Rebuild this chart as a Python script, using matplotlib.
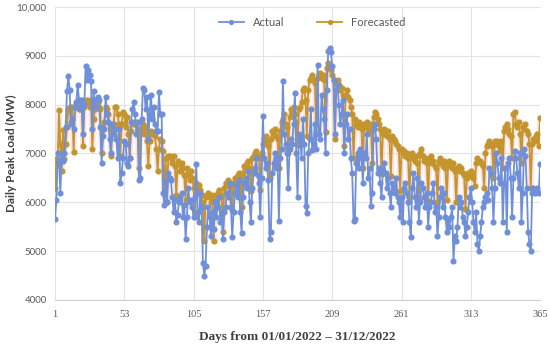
import numpy as np
import matplotlib
matplotlib.use("Agg")
import matplotlib.pyplot as plt

# Daily values, one row per week (days 7k+1 .. 7k+7)
forecast_weeks = [
    [6300, 6880, 6780, 7880, 7200, 6650, 7480],
    [6880, 7200, 7550, 7900, 7950, 7650, 7950],
    [7020, 7950, 8000, 8050, 7900, 8100, 8050],
    [7150, 7950, 8050, 8100, 8050, 7950, 8100],
    [7100, 7700, 7900, 8000, 8050, 7950, 7900],
    [7000, 7550, 7650, 7950, 7900, 7800, 7600],
    [6950, 7500, 7600, 7950, 7950, 7800, 7600],
    [6950, 7600, 7850, 7800, 7550, 7750, 7400],
    [6900, 7450, 7650, 7600, 7600, 7650, 7500],
    [6700, 7500, 7550, 7600, 7400, 7550, 7250],
    [6750, 7250, 7450, 7400, 7400, 7350, 7100],
    [6650, 7100, 7300, 7250, 7050, 6200, 6900],
    [6000, 6950, 6950, 6900, 6800, 6950, 6750],
    [6150, 6850, 6800, 6650, 6800, 6700, 6550],
    [6050, 6700, 6550, 6450, 6650, 6500, 6300],
    [5700, 6400, 6200, 6350, 6250, 6150, 6000],
    [5200, 6100, 6150, 6200, 6100, 6000, 6150],
    [5200, 6050, 6150, 6200, 6250, 6100, 6150],
    [5400, 6300, 6400, 6350, 6450, 6400, 6300],
    [5850, 6400, 6500, 6450, 6550, 6600, 6500],
    [5900, 6600, 6750, 6700, 6800, 6850, 6700],
    [6230, 6900, 6950, 7000, 7050, 6950, 6900],
    [6250, 7000, 7200, 7300, 7350, 7250, 7150],
    [6500, 7300, 7450, 7400, 7500, 7350, 7300],
    [6700, 7450, 7650, 7700, 7800, 7600, 7550],
    [7000, 7750, 7900, 7850, 7950, 7800, 7650],
    [7180, 7900, 7950, 8050, 8300, 8350, 8100],
    [7350, 8300, 8500, 8550, 8600, 8500, 8450],
    [7400, 8550, 8600, 8650, 8550, 8600, 8500],
    [7430, 8750, 8850, 8800, 8700, 8600, 8500],
    [7300, 8450, 8500, 8400, 8300, 8350, 8200],
    [7150, 8200, 8300, 8150, 8100, 7950, 7800],
    [6900, 7700, 7600, 7550, 7650, 7550, 7500],
    [6710, 7600, 7550, 7650, 7500, 7450, 7600],
    [6800, 7750, 7850, 7800, 7700, 7600, 7500],
    [6570, 7400, 7500, 7450, 7350, 7450, 7300],
    [6530, 7350, 7300, 7250, 7200, 7150, 7100],
    [6230, 7100, 7000, 7050, 6950, 7000, 6900],
    [6100, 6950, 7000, 6900, 6850, 6950, 6800],
    [6050, 7000, 7100, 6950, 6850, 6900, 6800],
    [6020, 6900, 6950, 6800, 6850, 6750, 6700],
    [6000, 6850, 6900, 6800, 6750, 6850, 6700],
    [6050, 6800, 6850, 6750, 6700, 6800, 6650],
    [6000, 6700, 6750, 6650, 6700, 6600, 6550],
    [5860, 6500, 6600, 6550, 6650, 6600, 6500],
    [6330, 6800, 6900, 6850, 6850, 6800, 6750],
    [6300, 7000, 7150, 7200, 7250, 7200, 7150],
    [6500, 7250, 7200, 7250, 7150, 7050, 7250],
    [6700, 7450, 7550, 7600, 7500, 7400, 7350],
    [6900, 7800, 7850, 7600, 7550, 7650, 7400],
    [6800, 7550, 7500, 7600, 7450, 7400, 7200],
    [6300, 7200, 7300, 7250, 7350, 7400, 7150],
    [7730],
]

actual_weeks = [
    [5650, 6050, 7000, 6850, 6200, 6900, 6850],
    [7000, 7550, 8280, 8580, 8300, 7600, 7700],
    [7500, 7950, 8050, 8400, 8100, 7900, 8100],
    [7400, 8000, 8800, 8500, 8700, 8600, 8480],
    [7500, 8280, 7950, 8100, 8150, 8100, 7550],
    [6800, 7350, 7500, 8150, 7800, 7650, 7300],
    [7000, 7600, 7400, 7500, 7300, 6900, 7500],
    [6400, 6600, 6900, 7250, 7200, 6800, 6750],
    [6900, 7650, 7900, 8050, 7800, 7400, 7650],
    [6450, 6500, 7700, 8350, 8300, 7900, 8150],
    [7300, 7800, 8200, 7700, 7950, 7600, 7450],
    [7450, 8250, 7800, 7800, 6200, 5950, 6450],
    [6000, 6600, 6500, 6450, 6100, 5800, 6050],
    [5600, 5750, 6000, 6100, 6200, 5700, 5950],
    [5250, 5700, 6300, 6000, 6050, 5900, 5700],
    [6100, 6775, 5800, 5600, 6200, 5900, 4750],
    [4500, 4700, 5500, 5900, 5700, 5300, 5800],
    [5450, 6000, 5700, 5900, 6100, 5600, 5800],
    [5250, 5800, 5900, 6200, 6100, 6400, 5900],
    [5285, 5800, 6200, 6350, 6100, 6450, 5800],
    [5380, 6100, 6400, 6500, 6300, 6650, 6000],
    [5600, 6300, 6600, 6700, 6900, 6550, 6400],
    [5700, 6500, 7775, 6900, 6700, 6800, 6450],
    [5245, 5400, 6600, 6800, 7000, 6700, 6900],
    [5620, 6900, 7100, 8476, 7400, 7200, 7000],
    [6300, 7100, 7300, 7200, 7600, 8240, 7000],
    [6100, 7400, 7300, 6900, 7700, 7200, 5925],
    [5790, 7000, 7300, 7900, 7080, 7200, 7600],
    [7100, 8816, 7400, 7300, 8200, 7900, 7700],
    [7000, 8300, 9100, 9160, 9080, 8800, 8500],
    [7400, 8300, 8400, 8000, 7600, 7800, 8100],
    [7000, 7600, 7800, 7300, 7500, 6900, 6600],
    [5620, 5650, 6800, 7000, 6700, 7100, 6900],
    [6400, 7000, 6900, 7400, 6500, 6700, 5925],
    [6200, 7500, 7600, 7300, 6600, 6700, 6400],
    [6100, 6650, 6800, 6600, 6300, 6500, 6200],
    [5900, 6400, 6300, 6200, 6500, 6100, 6000],
    [5700, 6100, 5590, 6300, 6400, 6200, 6000],
    [5600, 5285, 6300, 6600, 6100, 5900, 6500],
    [5600, 6000, 6400, 6300, 6100, 5900, 6200],
    [5500, 5900, 6000, 6200, 6400, 5800, 5900],
    [5300, 5700, 6100, 6300, 5900, 6200, 5700],
    [5400, 5650, 5500, 5700, 5900, 4800, 5300],
    [5200, 5500, 6100, 5900, 6000, 5700, 5600],
    [5300, 5500, 5800, 6100, 6300, 6000, 5600],
    [5400, 5800, 5150, 5000, 5300, 5600, 5900],
    [6000, 6100, 6200, 6050, 6700, 6600, 6300],
    [5600, 6300, 7000, 6800, 6500, 6400, 6900],
    [5600, 6400, 6700, 5400, 6800, 6900, 6500],
    [5700, 6500, 7050, 6900, 6600, 6300, 7000],
    [5600, 6200, 7100, 6950, 6300, 5400, 5140],
    [5000, 6200, 6300, 6200, 6250, 6300, 6200],
    [6775],
]

forecast = [v for week in forecast_weeks for v in week]
actual = [v for week in actual_weeks for v in week]
days = np.arange(1, len(actual) + 1)

x_ticks = [1, 53, 105, 157, 209, 261, 313, 365]
y_ticks = [4000, 5000, 6000, 7000, 8000, 9000, 10000]
y_tick_labels = ["4000", "5000", "6000", "7000", "8000", "9000", "10,000"]

blue = "#6f8fd8"
gold = "#c4952c"

fig = plt.figure(figsize=(5.5, 3.46), dpi=100)
ax = fig.add_axes([0.1, 0.133, 0.882, 0.847])

# soft glow behind the forecast line
ax.plot(days, forecast, color="#f7c6cf", linewidth=4, alpha=0.5, zorder=1)
ax.plot(days, actual, color=blue, linewidth=1.3, marker="o", markersize=3.4,
        label="Actual", zorder=3)
ax.plot(days, forecast, color=gold, linewidth=1.3, marker="o", markersize=3.4,
        label="Forecasted", zorder=2)

ax.set_xlim(1, 365)
ax.set_ylim(4000, 10000)
ax.set_xticks(x_ticks)
ax.set_xticklabels([str(t) for t in x_ticks], family="Liberation Serif",
                   fontsize=7.5, color="#595959")
ax.set_yticks(y_ticks)
ax.set_yticklabels(y_tick_labels, family="Lato", fontsize=7,
                   color="#595959")
ax.tick_params(axis="y", length=0, pad=6)
ax.tick_params(axis="x", length=0, pad=7)
ax.grid(True, color="#e3e3e3", linewidth=0.8)
ax.set_axisbelow(True)
for side in ["top", "right", "left"]:
    ax.spines[side].set_visible(False)
ax.spines["bottom"].set_color("#d0d0d0")

ax.set_ylabel("Daily Peak Load (MW)", family="Lato", fontsize=8.5,
              fontweight="bold", color="#404040")
ax.yaxis.set_label_coords(-0.078, 0.5)
ax.set_xlabel("Days from 01/01/2022 \u2013 31/12/2022", family="Liberation Serif",
              fontsize=9.5, fontweight="bold", color="#404040", labelpad=9)

ax.legend(loc="upper center", bbox_to_anchor=(0.53, 1.0), ncol=2, frameon=False,
          prop={"family": "Lato", "size": 8}, labelcolor="#595959",
          handlelength=2.2, columnspacing=3, markerscale=0.8)

fig.savefig("out.png", dpi=100)
